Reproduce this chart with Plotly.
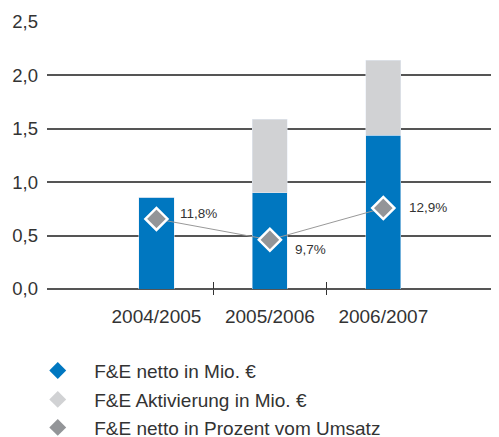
import plotly.graph_objects as go

categories = ["2004/2005", "2005/2006", "2006/2007"]
fe_netto = [0.86, 0.90, 1.44]
fe_aktivierung = [0.0, 0.69, 0.70]
fe_prozent = [11.8, 9.7, 12.9]
pct_labels = ["11,8%", "9,7%", "12,9%"]
y_ticks = [0.0, 0.5, 1.0, 1.5, 2.0, 2.5]
y_ticktext = ["0,0", "0,5", "1,0", "1,5", "2,0", "2,5"]
legend_names = ["F&E netto in Mio. €", "F&E Aktivierung in Mio. €", "F&E netto in Prozent vom Umsatz"]

BLUE = "#0077C0"
LIGHT = "#D1D2D4"
MARK = "#939598"
TXT = "#333333"
GRID = "#555555"
FONT = "Liberation Sans, Arial, sans-serif"

xr = [-0.965, 3.02]
boundaries = [i + 0.5 for i in range(len(categories) - 1)]

fig = go.Figure()
fig.add_trace(go.Bar(x=categories, y=fe_netto, marker_color=BLUE, showlegend=False, width=0.31, hoverinfo="skip"))
fig.add_trace(go.Bar(x=categories, y=fe_aktivierung, marker_color=LIGHT, showlegend=False, width=0.31, hoverinfo="skip"))
fig.add_trace(go.Scatter(x=categories, y=fe_prozent, yaxis="y2", mode="lines+markers",
                         line=dict(color="#999999", width=1),
                         marker=dict(symbol="diamond", size=17, color=MARK, line=dict(color="white", width=2.5)),
                         showlegend=False, hoverinfo="skip"))

# legend entries
legend_colors = [BLUE, LIGHT, MARK]
for i, (nm, c) in enumerate(zip(legend_names, legend_colors)):
    fig.add_trace(go.Scatter(x=[None], y=[None], mode="markers", name=nm,
                             marker=dict(symbol="diamond", size=13, color=c),
                             legend="legend" if i == 0 else f"legend{i+1}"))

ann_shifts = [(22, 5), (23, -10), (24, 1)]
for cat, p, t, (dx, dy) in zip(categories, fe_prozent, pct_labels, ann_shifts):
    fig.add_annotation(x=cat, y=p, yref="y2", text=t, showarrow=False, xanchor="left",
                       xshift=dx, yshift=dy, font=dict(size=13.5, color=TXT, family=FONT))

leg_common = dict(x=-0.057, xanchor="left", yanchor="middle", bgcolor="rgba(0,0,0,0)",
                  font=dict(size=19, color=TXT, family=FONT), itemwidth=63)

# the page body adds an 8px offset; the figure is sized to fill the rest of the 499x437 window
fig.update_layout(
    width=491, height=429,
    margin=dict(l=39, r=0, t=14, b=148, autoexpand=False),
    paper_bgcolor="white", plot_bgcolor="white",
    barmode="stack",
    font=dict(family=FONT, color=TXT),
    xaxis=dict(type="category", range=xr, showgrid=False, zeroline=False, showline=False,
               ticks="", tickfont=dict(size=19, color=TXT), ticklabelstandoff=14),
    xaxis2=dict(overlaying="x", anchor="y", range=xr, tickvals=boundaries, showticklabels=False,
                ticks="outside", ticklen=5, tickwidth=1, tickcolor=TXT, showgrid=False, zeroline=False, side="bottom"),
    xaxis3=dict(overlaying="x", anchor="y", range=xr, tickvals=boundaries, showticklabels=False,
                ticks="inside", ticklen=7, tickwidth=1, tickcolor=TXT, showgrid=False, zeroline=False, side="bottom"),
    yaxis=dict(range=[0, 2.5], tickvals=y_ticks, ticktext=y_ticktext, showgrid=True, gridcolor=GRID, gridwidth=1.5,
               zeroline=True, zerolinecolor=GRID, zerolinewidth=1.5, showline=False,
               tickfont=dict(size=18.5, color=TXT), ticks="", ticklabelstandoff=8),
    yaxis2=dict(overlaying="y", range=[4.74, 31.65], visible=False),
    legend=dict(y=-0.306, **leg_common),
    legend2=dict(y=-0.414, **leg_common),
    legend3=dict(y=-0.519, **leg_common),
)
# dummy traces to activate tick overlay axes
fig.add_trace(go.Scatter(x=[None], y=[None], xaxis="x2", showlegend=False, hoverinfo="skip"))
fig.add_trace(go.Scatter(x=[None], y=[None], xaxis="x3", showlegend=False, hoverinfo="skip"))

fig.write_html("out.html")
